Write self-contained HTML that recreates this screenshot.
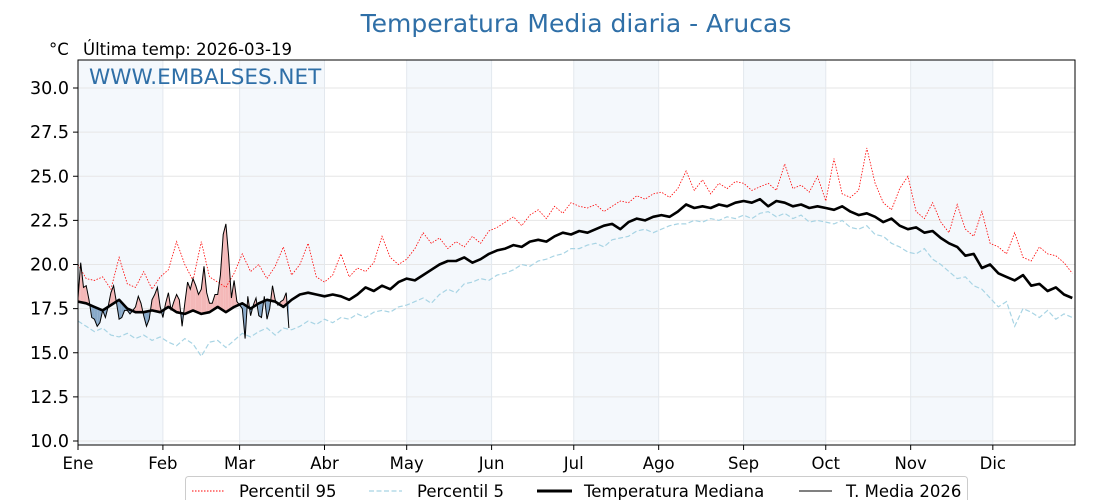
<!DOCTYPE html>
<html><head><meta charset="utf-8"><style>
body{margin:0;background:#fff}
svg{display:block;font-family:"DejaVu Sans","Liberation Sans",sans-serif}
</style></head><body>
<svg id="chart" width="1120" height="500" viewBox="0 0 1120 500" xmlns="http://www.w3.org/2000/svg">
<text x="576" y="32" text-anchor="middle" font-size="25" fill="#2f6fa7">Temperatura Media diaria - Arucas</text>
<text x="49" y="55" font-size="16.5" fill="#000">°C</text>
<text x="83" y="55" font-size="16.5" fill="#000">Última temp: 2026-03-19</text>
<g id="bands"></g><g id="grid"></g><g id="fills"></g><g id="lines"></g><g id="axes"></g>
<text x="89" y="84" font-size="21.5" fill="#2f6fa7">WWW.EMBALSES.NET</text>
<g>
<rect x="185.5" y="476.5" width="782" height="30" rx="3" fill="#fff" stroke="#ccc"/>
<line x1="192" y1="491" x2="225" y2="491" stroke="red" stroke-width="1" stroke-dasharray="1.5,1.5"/>
<text x="239" y="497" font-size="16.5">Percentil 95</text>
<line x1="369" y1="491" x2="402" y2="491" stroke="#a8d4e4" stroke-width="1.3" stroke-dasharray="5,2.5"/>
<text x="417" y="497" font-size="16.5">Percentil 5</text>
<line x1="537" y1="491" x2="572" y2="491" stroke="#000" stroke-width="3"/>
<text x="584" y="497" font-size="16.5">Temperatura Mediana</text>
<line x1="799" y1="491" x2="832" y2="491" stroke="#000" stroke-width="1"/>
<text x="846" y="497" font-size="16.5">T. Media 2026</text>
</g>
</svg>
<script>
const STEP = 3;
const median = [17.9,17.8,17.6,17.4,17.7,18.0,17.5,17.3,17.3,17.4,17.3,
17.6,17.3,17.2,17.4,17.2,17.3,17.6,17.3,17.6,
17.8,17.5,17.8,18.0,17.9,17.6,18.0,18.3,18.4,18.3,
18.2,18.3,18.2,18.0,18.3,18.7,18.5,18.8,18.6,19.0,
19.2,19.1,19.4,19.7,20.0,20.2,20.2,20.4,20.1,20.3,20.6,
20.8,20.9,21.1,21.0,21.3,21.4,21.3,21.6,21.8,21.7,
21.9,21.8,22.0,22.2,22.3,22.0,22.4,22.6,22.5,22.7,
22.8,22.7,23.0,23.4,23.2,23.3,23.2,23.4,23.3,23.5,
23.6,23.5,23.7,23.3,23.6,23.5,23.3,23.4,23.2,23.3,
23.2,23.1,23.3,23.0,22.8,22.9,22.7,22.4,22.6,22.2,
22.0,22.1,21.8,21.9,21.5,21.2,21.0,20.5,20.6,19.8,
20.0,19.5,19.3,19.1,19.4,18.8,18.9,18.5,18.7,18.3,18.1];
const p95 = [20.0,19.2,19.1,19.3,18.6,20.4,18.9,18.7,19.6,18.6,19.3,
19.7,21.3,20.0,19.1,21.3,19.3,19.0,18.7,19.5,
20.6,19.6,20.0,19.2,19.9,21.0,19.4,20.0,21.2,19.3,
19.0,19.4,20.6,19.3,19.8,19.6,20.1,21.6,20.4,20.0,
20.3,20.9,21.8,21.2,21.5,20.9,21.3,21.0,21.6,21.2,21.9,
22.1,22.4,22.7,22.2,22.8,23.1,22.6,23.3,22.9,23.5,
23.3,23.2,23.4,23.0,23.3,23.6,23.5,23.9,23.7,24.0,
24.1,23.8,24.3,25.3,24.2,24.8,24.0,24.6,24.3,24.7,
24.6,24.2,24.4,24.6,24.2,25.7,24.3,24.5,24.1,25.0,
23.6,26.0,24.0,23.8,24.2,26.6,24.6,23.5,23.1,24.3,
25.0,23.0,22.6,23.5,22.4,21.8,23.4,22.0,21.6,23.0,
21.2,21.0,20.6,21.8,20.4,20.2,21.0,20.6,20.5,20.1,19.5];
const p5 = [16.8,16.5,16.2,16.4,16.0,15.9,16.1,15.8,16.0,15.7,15.9,
15.6,15.4,15.8,15.5,14.8,15.6,15.7,15.3,15.7,
16.1,15.9,16.2,16.4,16.0,16.4,16.3,16.5,16.8,16.6,
16.9,16.7,17.0,16.9,17.2,17.0,17.3,17.4,17.3,17.6,
17.7,17.9,18.1,17.8,18.3,18.6,18.4,18.9,19.0,19.2,19.1,
19.4,19.5,19.7,20.0,19.9,20.2,20.3,20.5,20.6,20.9,
20.9,21.1,21.2,21.0,21.4,21.5,21.6,21.9,22.0,21.8,
22.0,22.2,22.3,22.3,22.5,22.4,22.6,22.5,22.7,22.6,
22.8,22.6,22.9,23.0,22.7,22.9,22.6,22.8,22.4,22.5,
22.4,22.3,22.5,22.1,22.0,22.2,21.7,21.6,21.2,21.0,
20.7,20.6,20.9,20.3,20.0,19.6,19.2,19.3,18.8,18.6,
18.1,17.6,17.9,16.5,17.5,17.3,17.0,17.4,16.9,17.2,17.0];
const t2026 = [18.1,20.1,18.7,18.8,18.0,17.0,16.9,16.5,16.7,17.4,17.0,17.6,18.4,18.8,17.9,16.9,17.0,17.4,17.4,17.2,
17.4,17.6,18.2,17.8,17.1,16.5,16.9,18.0,18.3,18.7,17.6,17.0,17.8,18.4,17.4,17.9,18.3,18.0,16.5,17.8,
19.0,18.6,19.2,18.8,18.3,18.6,19.9,18.4,17.8,17.8,18.3,18.3,19.4,21.7,22.3,20.5,18.1,19.1,17.9,17.7,
17.5,15.8,18.2,17.1,17.7,18.1,17.1,17.0,18.2,16.9,17.5,18.8,18.0,17.7,17.9,18.0,18.4,16.4];
const monthLabels = ["Ene","Feb","Mar","Abr","May","Jun","Jul","Ago","Sep","Oct","Nov","Dic"];
const monthStarts = [0,31,59,90,120,151,181,212,243,273,304,334];
const yTicks = [10,12.5,15,17.5,20,22.5,25,27.5,30];

const NS="http://www.w3.org/2000/svg";
const X0=78,X1=1075,Y0=60,Y1=445;
const xs=d=>X0+d*(X1-X0)/364;
const ys=v=>441-(v-10)*17.65;
function mk(tag,attrs,parent){const e=document.createElementNS(NS,tag);for(const k in attrs)e.setAttribute(k,attrs[k]);document.getElementById(parent).appendChild(e);return e;}
for(let i=0;i<12;i+=2){const a=monthStarts[i],b=monthStarts[i+1];
 const r=mk('rect',{x:xs(a),y:Y0,width:xs(b)-xs(a),height:Y1-Y0,fill:'#f4f8fc'},'bands');
 
 }
yTicks.forEach(v=>{const l=mk('line',{x1:X0,x2:X1,y1:ys(v),y2:ys(v),stroke:'#e6e6e6','stroke-width':1},'grid');
 
 });
monthStarts.forEach(d=>{const l=mk('line',{x1:xs(d),x2:xs(d),y1:Y0,y2:Y1,stroke:'#e3e8ee','stroke-width':1},'grid');
 
 });
function medAt(d){const i=d/STEP,k=Math.min(Math.floor(i),median.length-2),f=i-k;return median[k]*(1-f)+median[k+1]*f;}
for(let d=0;d<t2026.length-1;d++){
 const a0=t2026[d]-medAt(d),a1=t2026[d+1]-medAt(d+1);
 const segs=[];
 if(a0*a1>=0){segs.push([d,d+1,a0+a1>=0]);}
 else{const c=d+a0/(a0-a1);segs.push([d,c,a0>0]);segs.push([c,d+1,a1>0]);}
 segs.forEach(([s,e,up])=>{
  const tv=t=>{const f=t-d;return t2026[d]*(1-f)+t2026[d+1]*f;};
  const pts=[[xs(s),ys(tv(s))],[xs(e),ys(tv(e))],[xs(e),ys(medAt(e))],[xs(s),ys(medAt(s))]];
  const p=mk('polygon',{points:pts.map(q=>q.join(',')).join(' '),fill:up?'#f4b8b8':'#88a9c9'},'fills');
  
  
 });
}
function path(arr,step,attrs,name){const d=arr.map((v,i)=>(i?'L':'M')+xs(i*step).toFixed(1)+','+ys(v).toFixed(1)).join('');
 const p=mk('path',Object.assign({d:d,fill:'none'},attrs),'lines');
 
 }
path(p95,STEP,{stroke:'red','stroke-width':0.8,'stroke-dasharray':'1.5,1.5'},'percentile-95-line');
path(p5,STEP,{stroke:'#a8d4e4','stroke-width':1.2,'stroke-dasharray':'5,2.5'},'percentile-5-line');
path(median,STEP,{stroke:'#000','stroke-width':2.6,'stroke-linejoin':'round'},'median-line');
path(t2026,1,{stroke:'#000','stroke-width':1},'t2026-line');
const fr=mk('rect',{x:X0,y:Y0,width:X1-X0,height:Y1-Y0,fill:'none',stroke:'#000','stroke-width':1},'axes');


yTicks.forEach(v=>{mk('line',{x1:X0-5,x2:X0,y1:ys(v),y2:ys(v),stroke:'#000'},'axes');
 const t=mk('text',{x:X0-9,y:ys(v)+6,'text-anchor':'end','font-size':17.5},'axes');t.textContent=v.toFixed(1);
 
 });
monthStarts.forEach((d,i)=>{mk('line',{x1:xs(d),x2:xs(d),y1:Y1,y2:Y1+5,stroke:'#000'},'axes');
 const t=mk('text',{x:xs(d),y:469,'text-anchor':'middle','font-size':16.5},'axes');t.textContent=monthLabels[i];
 
 });
</script>
</body></html>
